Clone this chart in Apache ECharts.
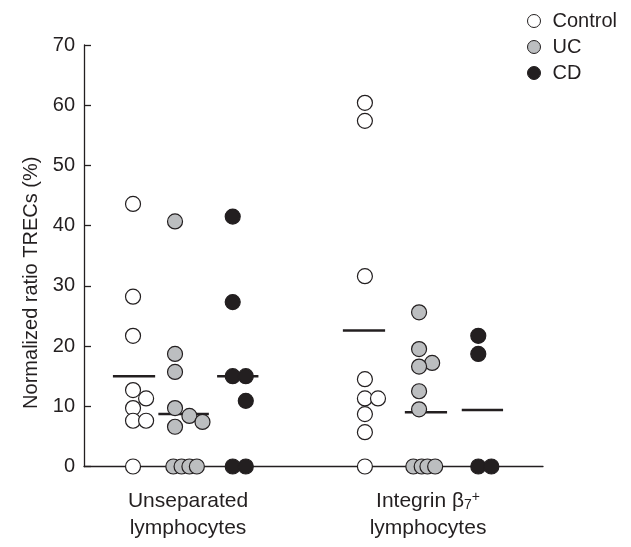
<!DOCTYPE html>
<html>
<head>
<meta charset="utf-8">
<script src="https://cdn.jsdelivr.net/npm/echarts@6/dist/echarts.min.js"></script>
<style>
  html, body { margin: 0; padding: 0; background: #fff; }
  #chart { width: 631px; height: 547px; }
</style>
</head>
<body>
<div id="chart"></div>
<script>
// data (values in %), one inner array per cell population
const groups = ["Unseparated\nlymphocytes", "Integrin β7+\nlymphocytes"]
const seriesNames = ["Control", "UC", "CD"]

const controlValues = [
  [43.6, 28.2, 21.7, 12.7, 11.3, 9.7, 7.6, 7.6, 0],
  [60.4, 57.4, 31.6, 14.5, 11.3, 11.3, 8.7, 5.7, 0]
]
const ucValues = [
  [40.7, 18.7, 15.7, 9.7, 8.4, 7.4, 6.6, 0, 0, 0, 0],
  [25.6, 19.5, 17.2, 16.6, 12.5, 9.5, 0, 0, 0, 0]
]
const cdValues = [
  [41.5, 27.3, 15.0, 15.0, 10.9, 0, 0],
  [21.7, 18.7, 0, 0]
]
// horizontal bars = group means
const controlMeans = [15.0, 22.6]
const ucMeans = [8.7, 9.0]
const cdMeans = [15.0, 9.4]

const yTicks = [0, 10, 20, 30, 40, 50, 60, 70]

// layout: x scale 0..100, column centres, jitter (in dot widths), bar centres
const labelX = [22.66, 74.95]
const colX = { Control: [10.68, 61.2], UC: [19.83, 73.0], CD: [32.4, 85.9] }
const meanX = { Control: [10.9, 61.0], UC: [21.7, 74.5], CD: [33.5, 86.8] }
const meanHalf = { Control: [4.6, 4.6], UC: [5.5, 4.6], CD: [4.5, 4.5] }
const dotStep = 2.85
const jitter = {
  Control: [[0, 0, 0, 0, 1, 0, 0, 1, 0], [0, 0, 0, 0, 0, 1, 0, 0, 0]],
  UC: [[0, 0, 0, 0, 1.1, 2.1, 0, -0.13, 0.5, 1.1, 1.67], [0, 0, 1, 0, 0, 0, -0.44, 0.2, 0.64, 1.23]],
  CD: [[0, 0, 0, 1, 1, 0, 1], [0, 0, 0, 1]]
}

const colors = { Control: "#ffffff", UC: "#bcbec0", CD: "#231f20" }
const ink = "#231f20"
const font = "Liberation Sans"

const valuesBy = { Control: controlValues, UC: ucValues, CD: cdValues }
const meansBy = { Control: controlMeans, UC: ucMeans, CD: cdMeans }

function dots(name) {
  const out = []
  valuesBy[name].forEach((vals, g) => {
    vals.forEach((v, i) => {
      out.push([colX[name][g] + jitter[name][g][i] * dotStep, v])
    })
  })
  return out
}

function meanBars() {
  const out = []
  seriesNames.forEach((name) => {
    meansBy[name].forEach((m, g) => {
      out.push([meanX[name][g], m, meanHalf[name][g]])
    })
  })
  return out
}

const chart = echarts.init(document.getElementById("chart"), null, { renderer: "canvas" })

const option = {
  animation: false,
  backgroundColor: "#fff",
  textStyle: { fontFamily: font, color: ink },
  grid: { left: 84, right: 88, top: 45, bottom: 80.5, containLabel: false },
  legend: {
    orient: "vertical",
    left: 522,
    top: 6,
    itemWidth: 13,
    itemHeight: 13,
    itemGap: 6,
    icon: "circle",
    data: seriesNames,
    itemStyle: { borderWidth: 1 },
    textStyle: { fontFamily: font, fontSize: 20, lineHeight: 20, color: ink, padding: [0, 0, 0, 7] }
  },
  xAxis: {
    type: "value",
    min: 0,
    max: 100,
    splitLine: { show: false },
    axisTick: { show: false },
    axisLine: { show: true, onZero: false, lineStyle: { color: ink, width: 1.3 } },
    axisLabel: {
      customValues: labelX,
      margin: 21,
      formatter: (v) => {
        const g = labelX.findIndex((x) => Math.abs(x - v) < 0.01)
        if (g === 0) return "{a|Unseparated}\n{a|lymphocytes}"
        if (g === 1) return "{a|Integrin β}{sub|7}{sup|+}\n{a|lymphocytes}"
        return ""
      },
      rich: {
        a: { fontFamily: font, fontSize: 21, color: ink, lineHeight: 27 },
        sub: { fontFamily: font, fontSize: 14, color: ink, lineHeight: 27, verticalAlign: "bottom", padding: [0, 0, 2, 0] },
        sup: { fontFamily: font, fontSize: 14, color: ink, lineHeight: 27, verticalAlign: "top", padding: [3, 0, 0, 0] }
      }
    }
  },
  yAxis: {
    type: "value",
    min: 0,
    max: 70,
    interval: 10,
    name: "Normalized ratio TRECs (%)",
    nameLocation: "middle",
    nameGap: 40,
    nameTextStyle: { fontFamily: font, fontSize: 20, color: ink, padding: [0, 54, 0, 0] },
    splitLine: { show: false },
    axisLine: { show: true, lineStyle: { color: ink, width: 1.3 } },
    axisTick: { show: true, inside: true, length: 7, lineStyle: { color: ink, width: 1.3 } },
    axisLabel: {
      margin: 9,
      fontFamily: font,
      fontSize: 20,
      color: ink,
      customValues: yTicks
    }
  },
  series: [
    {
      type: "custom",
      name: "mean",
      data: meanBars(),
      z: 1,
      silent: true,
      renderItem: (params, api) => {
        const c = api.value(0)
        const h = api.value(2)
        const p1 = api.coord([c - h, api.value(1)])
        const p2 = api.coord([c + h, api.value(1)])
        return {
          type: "line",
          shape: { x1: p1[0], y1: p1[1], x2: p2[0], y2: p2[1] },
          style: { stroke: ink, lineWidth: 2.5 }
        }
      }
    },
    ...seriesNames.map((name) => ({
      type: "scatter",
      name: name,
      data: dots(name),
      symbol: "circle",
      symbolSize: 15,
      z: 3,
      itemStyle: { color: colors[name], borderColor: ink, borderWidth: 1.2, opacity: 1 }
    }))
  ]
}

chart.setOption(option)
</script>
</body>
</html>
